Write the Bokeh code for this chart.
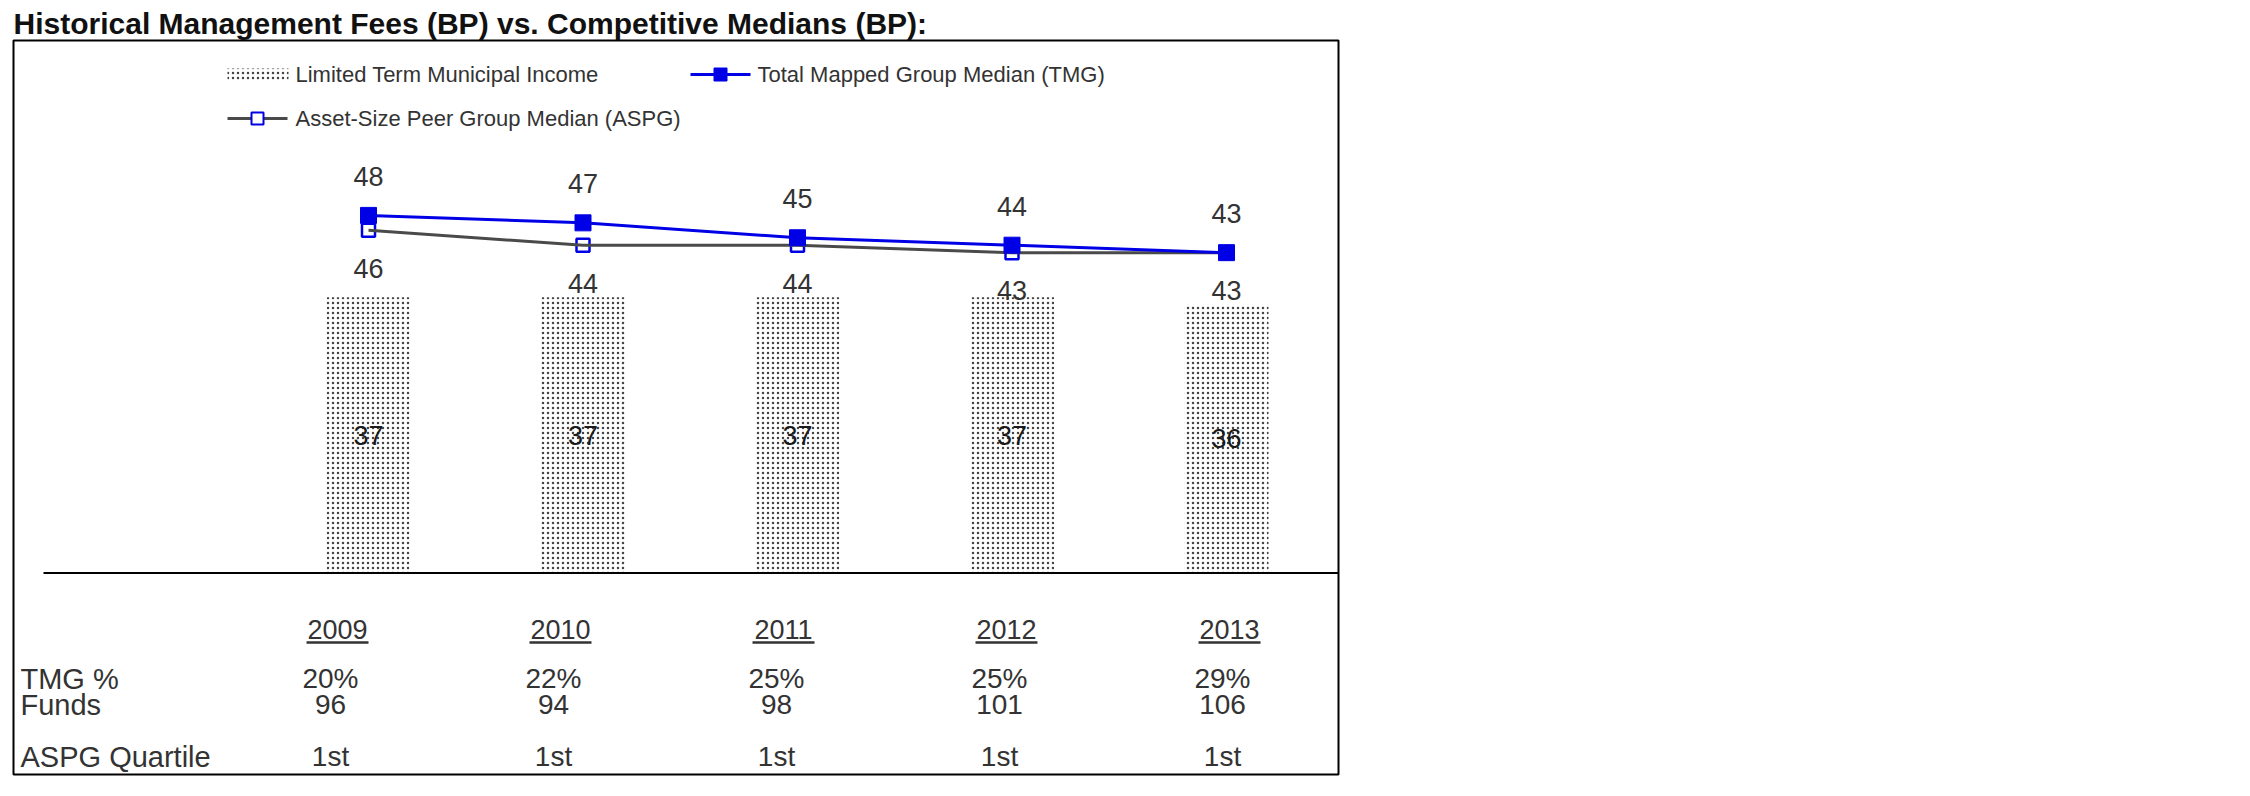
from bokeh.plotting import figure
from bokeh.models import Range1d, Grid
from bokeh.embed import file_html
from bokeh.resources import INLINE
from bokeh.core.properties import value

# ---------------- data ----------------
years = ["2009", "2010", "2011", "2012", "2013"]
fund_fee = [37, 37, 37, 37, 36]          # Limited Term Municipal Income (bars)
tmg_median = [48, 47, 45, 44, 43]        # Total Mapped Group Median
aspg_median = [46, 44, 44, 43, 43]       # Asset-Size Peer Group Median
tmg_pct = ["20%", "22%", "25%", "25%", "29%"]
funds = [96, 94, 98, 101, 106]
aspg_quartile = ["1st", "1st", "1st", "1st", "1st"]
row_labels = ["TMG %", "Funds", "ASPG Quartile"]
legend_labels = ["Limited Term Municipal Income",
                 "Total Mapped Group Median (TMG)",
                 "Asset-Size Peer Group Median (ASPG)"]
title_text = "Historical Management Fees (BP) vs. Competitive Medians (BP):"

# ---------------- geometry / style ----------------
FONT = value("Liberation Sans")
BLUE = "#0000E6"
GRAY_LINE = "#4a4a4a"
TXT = "#333333"

FRAME_L, FRAME_T, FRAME_R, FRAME_B = 13, 40, 1338, 774   # page px
X0_PX, X_STEP = 368, 214.5        # px of first category, px per category (chart)
T0_PX, T_STEP = 337, 223          # px of first column, px per column (table)
Y_ZERO_PX, Y_UNIT = 572.5, 7.45   # px of value 0, px per unit

xr0 = (FRAME_L - X0_PX) / X_STEP
xr1 = (FRAME_R - X0_PX) / X_STEP
yr1 = (Y_ZERO_PX - FRAME_T) / Y_UNIT
yr0 = (Y_ZERO_PX - FRAME_B) / Y_UNIT


def px_x(px):
    return (px - X0_PX) / X_STEP


def px_y(py):
    return (Y_ZERO_PX - py) / Y_UNIT


idx = list(range(len(years)))

p = figure(frame_width=FRAME_R - FRAME_L, frame_height=FRAME_B - FRAME_T,
           x_range=Range1d(xr0, xr1), y_range=Range1d(yr0, yr1),
           x_axis_location=None, y_axis_location=None,
           toolbar_location=None, output_backend="svg",
           min_border_left=FRAME_L, min_border_right=6,
           min_border_top=FRAME_T, min_border_bottom=6,
           title=title_text)
p.extra_x_ranges = {"table": Range1d((FRAME_L - T0_PX) / T_STEP, (FRAME_R - T0_PX) / T_STEP)}
for g in p.select(type=Grid):
    g.visible = False
p.title.text_font = "Liberation Sans"
p.title.text_font_size = "30px"
p.title.text_font_style = "bold"
p.title.text_color = "#111111"
p.title.standoff = 1
p.title.offset = 0
p.outline_line_color = "black"
p.outline_line_width = 2
p.background_fill_color = "white"
p.border_fill_color = "white"

# ---------------- bars ----------------
p.vbar(x=idx, top=fund_fee, bottom=0, width=84 / X_STEP,
       fill_color="white", line_color=None,
       hatch_pattern="dot", hatch_color="#444444", hatch_scale=5, hatch_weight=1.4)
p.text(x=idx, y=[v / 2 for v in fund_fee], text=[str(v) for v in fund_fee],
       text_font=FONT, text_font_size="27px", text_color="#1a1a1a",
       text_align="center", text_baseline="middle")

# category axis line
p.segment(x0=[px_x(43)], x1=[xr1], y0=[0], y1=[0], line_color="black", line_width=2)

# ---------------- lines ----------------
p.scatter(x=idx, y=aspg_median, marker="square", size=13,
          fill_color="white", line_color=BLUE, line_width=2.5)
p.line(x=idx, y=aspg_median, line_color=GRAY_LINE, line_width=3)
p.line(x=idx, y=tmg_median, line_color=BLUE, line_width=3)
p.scatter(x=idx, y=tmg_median, marker="square", size=16,
          fill_color=BLUE, line_color=BLUE)

p.text(x=idx, y=tmg_median, text=[str(v) for v in tmg_median], y_offset=-39,
       text_font=FONT, text_font_size="27px", text_color=TXT,
       text_align="center", text_baseline="middle")
p.text(x=idx, y=aspg_median, text=[str(v) for v in aspg_median], y_offset=38,
       text_font=FONT, text_font_size="27px", text_color=TXT,
       text_align="center", text_baseline="middle")

# ---------------- legend (drawn manually) ----------------
ROW1, ROW2 = 74, 118
p.quad(left=[px_x(227)], right=[px_x(288)], top=[px_y(ROW1 - 6)], bottom=[px_y(ROW1 + 6)],
       fill_color="white", line_color=None,
       hatch_pattern="dot", hatch_color="#444444", hatch_scale=5, hatch_weight=1.4)
p.line(x=[px_x(690), px_x(750)], y=[px_y(ROW1)] * 2, line_color=BLUE, line_width=3)
p.scatter(x=[px_x(720)], y=[px_y(ROW1)], marker="square", size=13,
          fill_color=BLUE, line_color=BLUE)
p.line(x=[px_x(227), px_x(287)], y=[px_y(ROW2)] * 2, line_color=GRAY_LINE, line_width=3)
p.scatter(x=[px_x(257)], y=[px_y(ROW2)], marker="square", size=12,
          fill_color="white", line_color=BLUE, line_width=2)
p.text(x=[px_x(295), px_x(757), px_x(295)], y=[px_y(ROW1), px_y(ROW1), px_y(ROW2)],
       text=legend_labels, text_font=FONT, text_font_size="22px", text_color=TXT,
       text_align="left", text_baseline="middle")

# ---------------- table below ----------------
Y_YEAR, Y_R1, Y_R2, Y_R3 = px_y(629), px_y(678), px_y(704), px_y(756)
p.text(x=idx, y=[Y_YEAR] * len(years), text=years, x_range_name="table",
       text_font=FONT, text_font_size="27px", text_color=TXT,
       text_align="center", text_baseline="middle")
UL_HALF = 31 / T_STEP
p.segment(x0=[i - UL_HALF for i in idx], x1=[i + UL_HALF for i in idx],
          y0=[px_y(642)] * len(years), y1=[px_y(642)] * len(years),
          x_range_name="table", line_color=TXT, line_width=2.5)

p.text(x=[px_x(20)] * 3, y=[Y_R1, Y_R2, Y_R3], text=row_labels,
       text_font=FONT, text_font_size="29px", text_color=TXT,
       text_align="left", text_baseline="middle")
for row_vals, yy in ((tmg_pct, Y_R1), ([str(v) for v in funds], Y_R2), (aspg_quartile, Y_R3)):
    p.text(x=idx, y=[yy] * len(idx), text=row_vals, x_offset=-7, x_range_name="table",
           text_font=FONT, text_font_size="28px", text_color=TXT,
           text_align="center", text_baseline="middle")

open("out.html", "w").write(file_html(p, INLINE))
